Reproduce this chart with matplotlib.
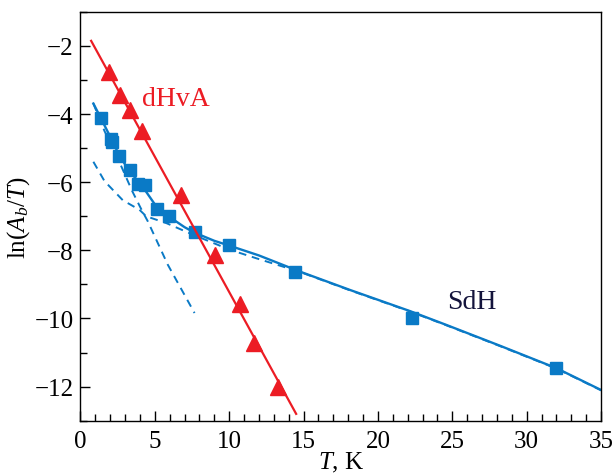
import matplotlib
matplotlib.use("Agg")
import matplotlib.pyplot as plt
from matplotlib.ticker import MultipleLocator

plt.rcParams['font.family'] = ['Liberation Serif', 'DejaVu Serif']
plt.rcParams['mathtext.fontset'] = 'custom'
plt.rcParams['mathtext.rm'] = 'Liberation Serif'
plt.rcParams['mathtext.it'] = 'Liberation Serif:italic'

# dHvA data
dhva_T = [1.90, 2.67, 3.30, 4.15, 6.78, 9.02, 10.75, 11.7, 13.26]
dhva_ln = [-2.76, -3.44, -3.89, -4.50, -6.38, -8.15, -9.57, -10.73, -12.0]
dhva_fit_T = [0.72, 14.5]
dhva_fit_ln = [-1.85, -12.8]

# SdH data
sdh_T = [1.35, 2.07, 2.13, 2.62, 3.30, 3.90, 4.31, 5.16, 5.92, 7.67, 10.0, 14.45, 22.29, 31.99]
sdh_ln = [-4.12, -4.72, -4.82, -5.24, -5.65, -6.04, -6.07, -6.79, -6.98, -7.46, -7.84, -8.64, -9.98, -11.46]

# SdH fit (solid)
sdh_fit_T = [0.87, 1.35, 2.1, 2.62, 3.3, 4.1, 5.16, 5.92, 7.0, 7.67, 9.0, 10.0, 12.0, 14.73,
             18.1, 22.13, 24.6, 28.2, 32.0, 35.0]
sdh_fit_ln = [-3.69, -4.10, -4.75, -5.22, -5.68, -6.08, -6.75, -7.0, -7.32, -7.48, -7.72, -7.86,
              -8.15, -8.62, -9.16, -9.78, -10.19, -10.8, -11.46, -12.1]

# dashed component 1 (steep)
comp1_T = [0.87, 1.62, 2.4, 3.48, 4.04, 4.53, 5.87, 7.67]
comp1_ln = [-3.69, -4.5, -5.19, -6.26, -6.75, -7.15, -8.42, -9.84]

# dashed component 2 (slow)
comp2_T = [0.87, 1.62, 2.85, 3.97, 4.42, 5.77, 7.56, 10.03, 11.8, 14.73, 18.1, 22.13, 24.6, 28.2,
           32.0, 35.0]
comp2_ln = [-5.40, -5.97, -6.53, -6.81, -7.0, -7.2, -7.54, -7.98, -8.23, -8.63, -9.17, -9.79,
            -10.2, -10.81, -11.47, -12.11]

red = '#ec1c24'
blue = '#0a7ac6'

fig = plt.figure(figsize=(6.14, 4.77), dpi=100)
ax = fig.add_axes([0.131, 0.116, 0.848, 0.857])

ax.plot(comp1_T, comp1_ln, color=blue, lw=1.4, ls=(0, (4, 3)))
ax.plot(comp2_T, comp2_ln, color=blue, lw=1.4, ls=(0, (4, 3)))
ax.plot(sdh_fit_T, sdh_fit_ln, color=blue, lw=1.7)
ax.plot(sdh_T, sdh_ln, 's', color=blue, ms=8, mec=blue)
ax.plot(dhva_fit_T, dhva_fit_ln, color=red, lw=1.6)
ax.plot(dhva_T, dhva_ln, '^', color=red, ms=12, mec=red)

ax.text(6.43, -3.55, 'dHvA', color=red, fontsize=20, ha='center', va='center')
ax.text(26.3, -9.5, 'SdH', color='#14143c', fontsize=20, ha='center', va='center')

ax.set_xlim(0, 35)
ax.set_ylim(-13, -1)
ax.xaxis.set_major_locator(MultipleLocator(5))
ax.xaxis.set_minor_locator(MultipleLocator(1))
ax.yaxis.set_major_locator(MultipleLocator(2))
ax.yaxis.set_minor_locator(MultipleLocator(1))
ax.tick_params(which='both', direction='in', top=False, right=False, labelsize=18, width=1.0)
ax.tick_params(which='major', length=7.5, pad=5)
ax.tick_params(which='minor', length=5)
ax.tick_params(axis='x', which='major', pad=7)
for s in ax.spines.values():
    s.set_linewidth(1.0)

ax.set_xlabel(r'$T$, K', fontsize=18, labelpad=-2)
ax.set_ylabel(r'$\mathrm{ln}(A_b/T)$', fontsize=18, labelpad=2)

fig.savefig('out.png', dpi=100)
